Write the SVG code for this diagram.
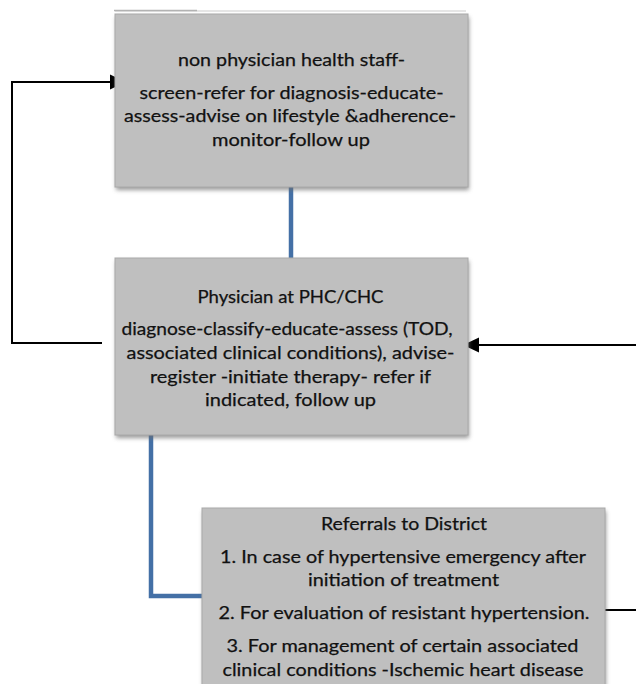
<svg xmlns="http://www.w3.org/2000/svg" width="636" height="684" viewBox="0 0 636 684">
  <defs>
    <filter id="shadow" x="-10%" y="-10%" width="120%" height="130%">
      <feGaussianBlur stdDeviation="2"/>
    </filter>
  </defs>
  <style>
    .box { fill: #bfbfbf; stroke: #a9a9a9; stroke-width: 1; }
    .shadow { fill: #6e6e6e; opacity: 0.7; filter: url(#shadow); }
    .txt { font-family: Lato, "Liberation Sans", sans-serif; font-size: 18px; fill: #111; stroke: #111; stroke-width: 0.25; text-anchor: middle; }
    .blue { fill: none; stroke: #4470a6; stroke-width: 4.5; stroke-linejoin: miter; }
    .black { fill: none; stroke: #000; stroke-width: 2; }
    .head { fill: #000; }
  </style>
  <rect width="636" height="684" fill="#fff"/>

  <!-- faint top line -->
  <line x1="115" y1="11" x2="466" y2="11" stroke="#dcdcdc" stroke-width="1.5"/>
  <line x1="114" y1="10.5" x2="197" y2="10.5" stroke="#b3b3b3" stroke-width="1.5"/>

  <g id="connectors">
    <line class="blue" x1="291" y1="187" x2="291" y2="258"/>
    <polyline class="blue" points="151,435 151,596 203,596"/>
    <polyline class="black" points="102,343 12,343 12,82 112,82"/>
    <polygon class="head" points="110,74.5 126,82 110,89.5"/>
    <line class="black" x1="636" y1="345" x2="477" y2="345"/>
    <polygon class="head" points="479,337.5 463,345 479,352.5"/>
    <line class="black" x1="605" y1="610" x2="636" y2="610"/>
  </g>

  <g id="node-staff">
    <rect class="shadow" x="116" y="17" width="353" height="173"/>
    <rect class="box" x="115" y="14" width="353" height="173"/>
    <text class="txt" x="291.5" y="66" textLength="227" lengthAdjust="spacingAndGlyphs">non physician health staff-</text>
    <text class="txt" x="291.5" y="99" textLength="304" lengthAdjust="spacingAndGlyphs">screen-refer for diagnosis-educate-</text>
    <text class="txt" x="290" y="122" textLength="332" lengthAdjust="spacingAndGlyphs">assess-advise on lifestyle &amp;adherence-</text>
    <text class="txt" x="291" y="146" textLength="158" lengthAdjust="spacingAndGlyphs">monitor-follow up</text>
  </g>

  <g id="node-physician">
    <rect class="shadow" x="116" y="261" width="353" height="177"/>
    <rect class="box" x="115" y="258" width="353" height="177"/>
    <text class="txt" x="290.5" y="303" textLength="186" lengthAdjust="spacingAndGlyphs">Physician at PHC/CHC</text>
    <text class="txt" x="287" y="335" textLength="331" lengthAdjust="spacingAndGlyphs">diagnose-classify-educate-assess (TOD,</text>
    <text class="txt" x="290.5" y="359" textLength="328" lengthAdjust="spacingAndGlyphs">associated clinical conditions), advise-</text>
    <text class="txt" x="290.5" y="383" textLength="281" lengthAdjust="spacingAndGlyphs">register -initiate therapy- refer if</text>
    <text class="txt" x="290.5" y="406" textLength="171" lengthAdjust="spacingAndGlyphs">indicated, follow up</text>
  </g>

  <g id="node-referrals">
    <rect class="shadow" x="203" y="511" width="403" height="180"/>
    <rect class="box" x="202" y="508" width="403" height="180"/>
    <text class="txt" x="404" y="530" textLength="166" lengthAdjust="spacingAndGlyphs">Referrals to District</text>
    <text class="txt" x="403" y="563" textLength="366" lengthAdjust="spacingAndGlyphs">1. In case of hypertensive emergency after</text>
    <text class="txt" x="403.5" y="586" textLength="191" lengthAdjust="spacingAndGlyphs">initiation of treatment</text>
    <text class="txt" x="404" y="619" textLength="371" lengthAdjust="spacingAndGlyphs">2. For evaluation of resistant hypertension.</text>
    <text class="txt" x="402.5" y="652" textLength="352" lengthAdjust="spacingAndGlyphs">3. For management of certain associated</text>
    <text class="txt" x="403" y="676" textLength="361" lengthAdjust="spacingAndGlyphs">clinical conditions -Ischemic heart disease</text>
  </g>
</svg>
